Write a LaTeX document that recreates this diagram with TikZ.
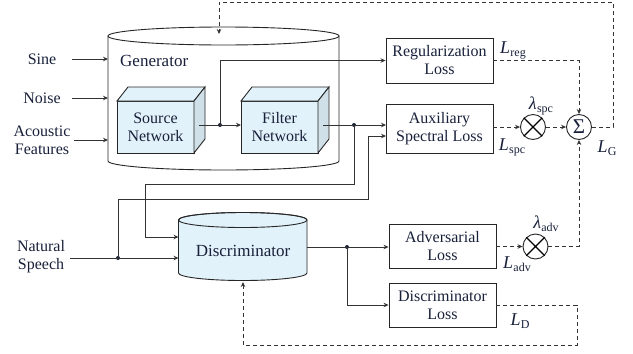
\documentclass[tikz,border=0pt]{standalone}
\usepackage{fontspec}
\setmainfont{Liberation Serif}
\usetikzlibrary{arrows.meta,calc}
\definecolor{ink}{RGB}{24,32,58}
\definecolor{cubefront}{RGB}{226,242,251}
\definecolor{cubeside}{RGB}{208,224,232}
% italic symbol with an upright subscript
\newcommand{\losslab}[2]{\textit{#1}\kern0.3pt\raisebox{-3pt}{\fontsize{12}{12}\selectfont #2}}
% 3-D block: name, left x of front face, caption
\newcommand{\netcube}[3]{%
  \draw[outline, fill=cubefront] (#2,-101) rectangle (#2+77,-153);
  \draw[outline, fill=cubefront] (#2,-101) -- (#2+11,-87) -- (#2+88,-87) -- (#2+77,-101) -- cycle;
  \draw[outline, fill=cubeside] (#2+77,-101) -- (#2+88,-87) -- (#2+88,-139) -- (#2+77,-153) -- cycle;
  \node[lbl] (#1) at (#2+38.5,-127) {#3};
}
\begin{document}
\begin{tikzpicture}[x=1pt,y=1pt,
  lbl/.style={text=ink, font=\fontsize{16}{18}\selectfont, align=center, inner sep=0pt},
  biglbl/.style={lbl, font=\fontsize{17}{20}\selectfont},
  outline/.style={line width=0.9pt, draw=black!85},
  lossbox/.style={lbl, draw=black!85, line width=0.9pt, minimum width=107pt, minimum height=45pt},
  wire/.style={line width=0.9pt, draw=black!80},
  arr/.style={wire, -{Stealth[length=5pt,width=4.5pt]}},
  dashwire/.style={wire, dash pattern=on 4pt off 3pt},
  darr/.style={dashwire, -{Stealth[length=5pt,width=4.5pt]}},
  junction/.style={circle, fill=ink, inner sep=0pt, minimum size=4pt},
  opnode/.style={circle, draw=black!85, line width=0.9pt, minimum size=25pt, inner sep=0pt},
]
\useasboundingbox (0,0) rectangle (633,-354);

% ---- generator cylinder ----
\draw[outline, fill=white] (108,-36) -- (108,-161)
  arc[start angle=180, end angle=360, x radius=115.5, y radius=9] -- (339,-36);
\draw[outline] (223.5,-36) ellipse [x radius=115.5, y radius=9];
\node[biglbl, anchor=west] (gen) at (120,-61) {Generator};
\coordinate (gsine) at (108,-59);
\coordinate (gnoise) at (108,-98);
\coordinate (gfeat) at (108,-140);
\coordinate (gtop) at (219,-34);

\netcube{src}{117}{Source\\Network}
\netcube{flt}{241}{Filter\\Network}
\coordinate (srcout) at (199,-125);
\coordinate (fltin) at (241,-125);
\coordinate (fltout) at (323,-125);

% ---- inputs ----
\node[lbl] (sine) at (42,-59) {Sine};
\node[lbl] (noise) at (42,-98) {Noise};
\node[lbl] (feat) at (42,-140) {Acoustic\\Features};
\node[lbl] (speech) at (41,-257) {Natural\\Speech};
\coordinate (sineout) at (72,-59);
\coordinate (noiseout) at (72,-98);
\coordinate (featout) at (74,-140);
\coordinate (speechout) at (70,-258);
\draw[arr] (sineout) -- (gsine);
\draw[arr] (noiseout) -- (gnoise);
\draw[arr] (featout) -- (gfeat);

% ---- discriminator cylinder ----
\draw[outline, fill=cubefront] (178.5,-220) -- (178.5,-273)
  arc[start angle=180, end angle=360, x radius=64.25, y radius=7.5] -- (307,-220)
  arc[start angle=0, end angle=180, x radius=64.25, y radius=7.5] -- cycle;
\draw[outline] (242.75,-220) ellipse [x radius=64.25, y radius=7.5];
\node[biglbl] (disc) at (243,-251) {Discriminator};
\coordinate (discin1) at (178.5,-237);
\coordinate (discin2) at (178.5,-258);
\coordinate (discout) at (307,-247);
\coordinate (discbot) at (243,-282);

% ---- loss blocks ----
\node[lossbox] (reg) at (439.5,-60.5) {Regularization\\Loss};
\node[lossbox, minimum height=49pt] (aux) at (439.5,-128.5) {Auxiliary\\Spectral Loss};
\node[lossbox, minimum height=44pt] (adv) at (442.5,-246.5) {Adversarial\\Loss};
\node[lossbox, minimum height=44pt] (dl) at (442.5,-305) {Discriminator\\Loss};
\coordinate (auxin1) at (386,-125);
\coordinate (auxin2) at (386,-136);

% ---- weighting and summation ----
\node[opnode] (mspc) at (533,-127) {};
\node[opnode] (madv) at (535.5,-246.5) {};
\node[opnode, lbl, font=\fontsize{21}{21}\selectfont] (sum) at (579,-127) {Σ};
\foreach \m in {mspc,madv}{
  \draw[line width=1.3pt] (\m.north west) -- (\m.south east) (\m.north east) -- (\m.south west);
}

% ---- signal connectors ----
\node[junction] (j1) at (220,-125) {};
\node[junction] (j2) at (354,-125) {};
\node[junction] (j3) at (118,-258) {};
\node[junction] (j4) at (347,-247) {};
\draw[arr] (srcout) -- (fltin);
\draw[arr] (j1.center) |- (reg.west);
\draw[arr] (fltout) -- (auxin1);
\draw[arr] (j2.center) |- (145,-184) |- (discin1);
\draw[arr] (speechout) -- (discin2);
\draw[arr] (j3.center) |- (368,-199) |- (auxin2);
\draw[arr] (discout) -- (discout -| adv.west);
\draw[arr] (j4.center) |- (dl.west);

% ---- loss connectors ----
\coordinate (fbtop) at (613,-2);
\coordinate (fbbot) at (577,-345);
\draw[darr] (reg.east) -| (sum.north);
\draw[darr] (aux.east |- mspc) -- (mspc.west);
\draw[darr] (mspc.east) -- (sum.west);
\draw[darr] (adv.east) -- (madv.west);
\draw[darr] (madv.east) -| (sum.south);
\draw[darr] (sum.east) -| (fbtop) -| (gtop);
\draw[darr] (dl.east) -| (fbbot) -| (discbot);

% ---- labels ----
\node[lbl, font=\fontsize{18}{18}\selectfont] (lreg) at (513,-50) {\losslab{L}{reg}};
\node[lbl, font=\fontsize{18}{18}\selectfont] (lspc) at (512,-147) {\losslab{L}{spc}};
\node[lbl, font=\fontsize{18}{18}\selectfont] (ladv) at (517,-264) {\losslab{L}{adv}};
\node[lbl, font=\fontsize{18}{18}\selectfont] (ld) at (520,-321) {\losslab{L}{D}};
\node[lbl, font=\fontsize{18}{18}\selectfont] (lg) at (607,-148) {\losslab{L}{G}};
\node[lbl, font=\fontsize{18}{18}\selectfont] (wspc) at (541,-106) {\losslab{λ}{spc}};
\node[lbl, font=\fontsize{18}{18}\selectfont] (wadv) at (546,-224) {\losslab{λ}{adv}};
\end{tikzpicture}
\end{document}
